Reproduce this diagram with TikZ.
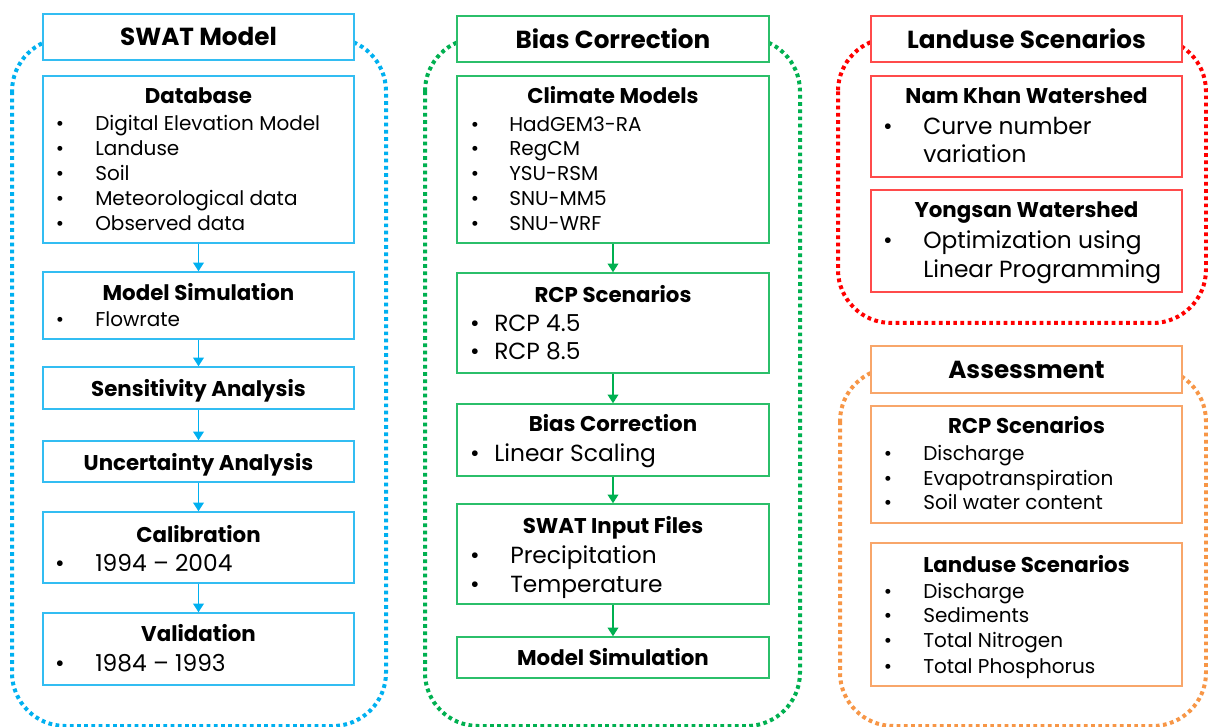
\documentclass[tikz,border=0pt]{standalone}
\usepackage{fontspec}
\setmainfont{Poppins}
\usetikzlibrary{arrows.meta,fit}
\definecolor{cblue}{HTML}{00B0F0}
\definecolor{cbluebox}{HTML}{33BDF2}
\definecolor{cgreen}{HTML}{00B050}
\definecolor{cgreenbox}{HTML}{2BBF6A}
\definecolor{cred}{HTML}{FF0000}
\definecolor{credbox}{HTML}{FF4B4B}
\definecolor{corange}{HTML}{F79646}
\definecolor{corangebox}{HTML}{F8A66A}
\newcommand\ttl{\fontsize{18.5pt}{22pt}\selectfont\bfseries}
\newcommand\hd{\fontsize{16pt}{19pt}\selectfont\bfseries}
\newcommand\sm{\fontsize{15pt}{18pt}\selectfont}
\newcommand\bg{\fontsize{17.5pt}{21pt}\selectfont}
% bullet item: name, bullet x, text x, baseline y, font, text
\newcommand\bitem[6]{%
  \node[anchor=base,inner sep=0] (#1b) at (#2,#4) {#5\textbullet};
  \node[anchor=base west,inner sep=0] (#1) at (#3,#4) {#5#6};}
\begin{document}
\begin{tikzpicture}[x=0.75pt,y=-0.75pt,
  frame/.style={line width=3pt,dash pattern=on 2.8pt off 2.6pt,rounded corners=40pt},
  bx/.style={draw,fill=white,line width=1.1pt,inner sep=0pt},
  head/.style={anchor=base,inner sep=0},
  arr/.style={line width=1.1pt,-{Triangle[width=8pt,length=6.5pt]}}]
\useasboundingbox (0,0) rectangle (1208,727);
\fill[white] (0,0) rectangle (1208,727);

% dotted group frames
\draw[frame,cblue] (12,38) rectangle (386,726);
\draw[frame,cgreen] (425,38) rectangle (800,726);
\draw[frame,cred] (838,38) rectangle (1206,323);
\draw[frame,corange] (840,368) rectangle (1206,726);

% ---------- SWAT model ----------
\begin{scope}[every node/.append style={}]
\node[bx,draw=cbluebox,fit={(43,14)(354,60)}] (swat) {};
\node[bx,draw=cbluebox,fit={(43,76)(354,243)}] (db) {};
\node[bx,draw=cbluebox,fit={(43,272)(354,339)}] (ms) {};
\node[bx,draw=cbluebox,fit={(43,367)(354,409)}] (sa) {};
\node[bx,draw=cbluebox,fit={(43,441)(354,482)}] (ua) {};
\node[bx,draw=cbluebox,fit={(43,512)(354,583)}] (cal) {};
\node[bx,draw=cbluebox,fit={(43,613)(354,685)}] (val) {};
\end{scope}
\node[head] (swatT) at (198.5,46) {\ttl SWAT Model};
\node[head] (dbT) at (198.5,104) {\hd Database};
\bitem{db1}{60}{95}{131}{\sm}{Digital Elevation Model}
\bitem{db2}{60}{95}{156}{\sm}{Landuse}
\bitem{db3}{60}{95}{181}{\sm}{Soil}
\bitem{db4}{60}{95}{206}{\sm}{Meteorological data}
\bitem{db5}{60}{95}{231}{\sm}{Observed data}
\node[head] (msT) at (198.5,301) {\hd Model Simulation};
\bitem{ms1}{60}{95}{327}{\sm}{Flowrate}
\node[head] (saT) at (198.5,397) {\hd Sensitivity Analysis};
\node[head] (uaT) at (198.5,470) {\hd Uncertainty Analysis};
\node[head] (calT) at (198.5,542) {\hd Calibration};
\bitem{cal1}{60}{95}{571}{\bg}{1994 – 2004}
\node[head] (valT) at (198.5,641) {\hd Validation};
\bitem{val1}{60}{95}{671}{\bg}{1984 – 1993}
\draw[arr,cblue] (db) -- (ms);
\draw[arr,cblue] (ms) -- (sa);
\draw[arr,cblue] (sa) -- (ua);
\draw[arr,cblue] (ua) -- (cal);
\draw[arr,cblue] (cal) -- (val);

% ---------- Bias correction ----------
\node[bx,draw=cgreenbox,fit={(457,16)(769,62)}] (bct) {};
\node[bx,draw=cgreenbox,fit={(457,76)(769,243)}] (cm) {};
\node[bx,draw=cgreenbox,fit={(457,273)(769,373)}] (rcp) {};
\node[bx,draw=cgreenbox,fit={(457,404)(769,476)}] (bc) {};
\node[bx,draw=cgreenbox,fit={(457,504)(769,604)}] (sif) {};
\node[bx,draw=cgreenbox,fit={(457,637)(769,678)}] (msim) {};
\node[head] (bctT) at (613,49) {\ttl Bias Correction};
\node[head] (cmT) at (613,104) {\hd Climate Models};
\bitem{cm1}{475}{509}{132}{\sm}{HadGEM3-RA}
\bitem{cm2}{475}{509}{156}{\sm}{RegCM}
\bitem{cm3}{475}{509}{181}{\sm}{YSU-RSM}
\bitem{cm4}{475}{509}{206}{\sm}{SNU-MM5}
\bitem{cm5}{475}{509}{231}{\sm}{SNU-WRF}
\node[head] (rcpT) at (613,303) {\hd RCP Scenarios};
\bitem{rcp1}{475}{494}{332}{\bg}{RCP 4.5}
\bitem{rcp2}{475}{494}{360}{\bg}{RCP 8.5}
\node[head] (bcT) at (613,432) {\hd Bias Correction};
\bitem{bc1}{475}{494}{462}{\bg}{Linear Scaling}
\node[head] (sifT) at (613,533) {\hd SWAT Input Files};
\bitem{sif1}{475}{510}{563}{\bg}{Precipitation}
\bitem{sif2}{475}{510}{592}{\bg}{Temperature}
\node[head] (msimT) at (613,665) {\hd Model Simulation};
\draw[arr,cgreen] (cm) -- (rcp);
\draw[arr,cgreen] (rcp) -- (bc);
\draw[arr,cgreen] (bc) -- (sif);
\draw[arr,cgreen] (sif) -- (msim);

% ---------- Landuse scenarios ----------
\node[bx,draw=credbox,fit={(871,16)(1182,62)}] (lst) {};
\node[bx,draw=credbox,fit={(871,76)(1182,177)}] (nk) {};
\node[bx,draw=credbox,fit={(871,190)(1182,292)}] (ys) {};
\node[head] (lstT) at (1026.5,49) {\ttl Landuse Scenarios};
\node[head] (nkT) at (1026.5,104) {\hd Nam Khan Watershed};
\bitem{nk1}{888}{923}{135}{\bg}{Curve number}
\node[anchor=base west,inner sep=0] (nk2) at (923,163) {\bg variation};
\node[head] (ysT) at (1026.5,218) {\hd Yongsan Watershed};
\bitem{ys1}{888}{923}{249}{\bg}{Optimization using}
\node[anchor=base west,inner sep=0] (ys2) at (923,278) {\bg Linear Programming};

% ---------- Assessment ----------
\node[bx,draw=corangebox,fit={(871,346)(1182,393)}] (ast) {};
\node[bx,draw=corangebox,fit={(871,406)(1182,523)}] (ar) {};
\node[bx,draw=corangebox,fit={(871,543)(1182,686)}] (al) {};
\node[head] (astT) at (1026.5,379) {\ttl Assessment};
\node[head] (arT) at (1026.5,434) {\hd RCP Scenarios};
\bitem{ar1}{888}{923}{461}{\sm}{Discharge}
\bitem{ar2}{888}{923}{485}{\sm}{Evapotranspiration}
\bitem{ar3}{888}{923}{510}{\sm}{Soil water content}
\node[head] (alT) at (1026.5,572) {\hd Landuse Scenarios};
\bitem{al1}{888}{923}{598}{\sm}{Discharge}
\bitem{al2}{888}{923}{622}{\sm}{Sediments}
\bitem{al3}{888}{923}{647}{\sm}{Total Nitrogen}
\bitem{al4}{888}{923}{673}{\sm}{Total Phosphorus}
\end{tikzpicture}
\end{document}
